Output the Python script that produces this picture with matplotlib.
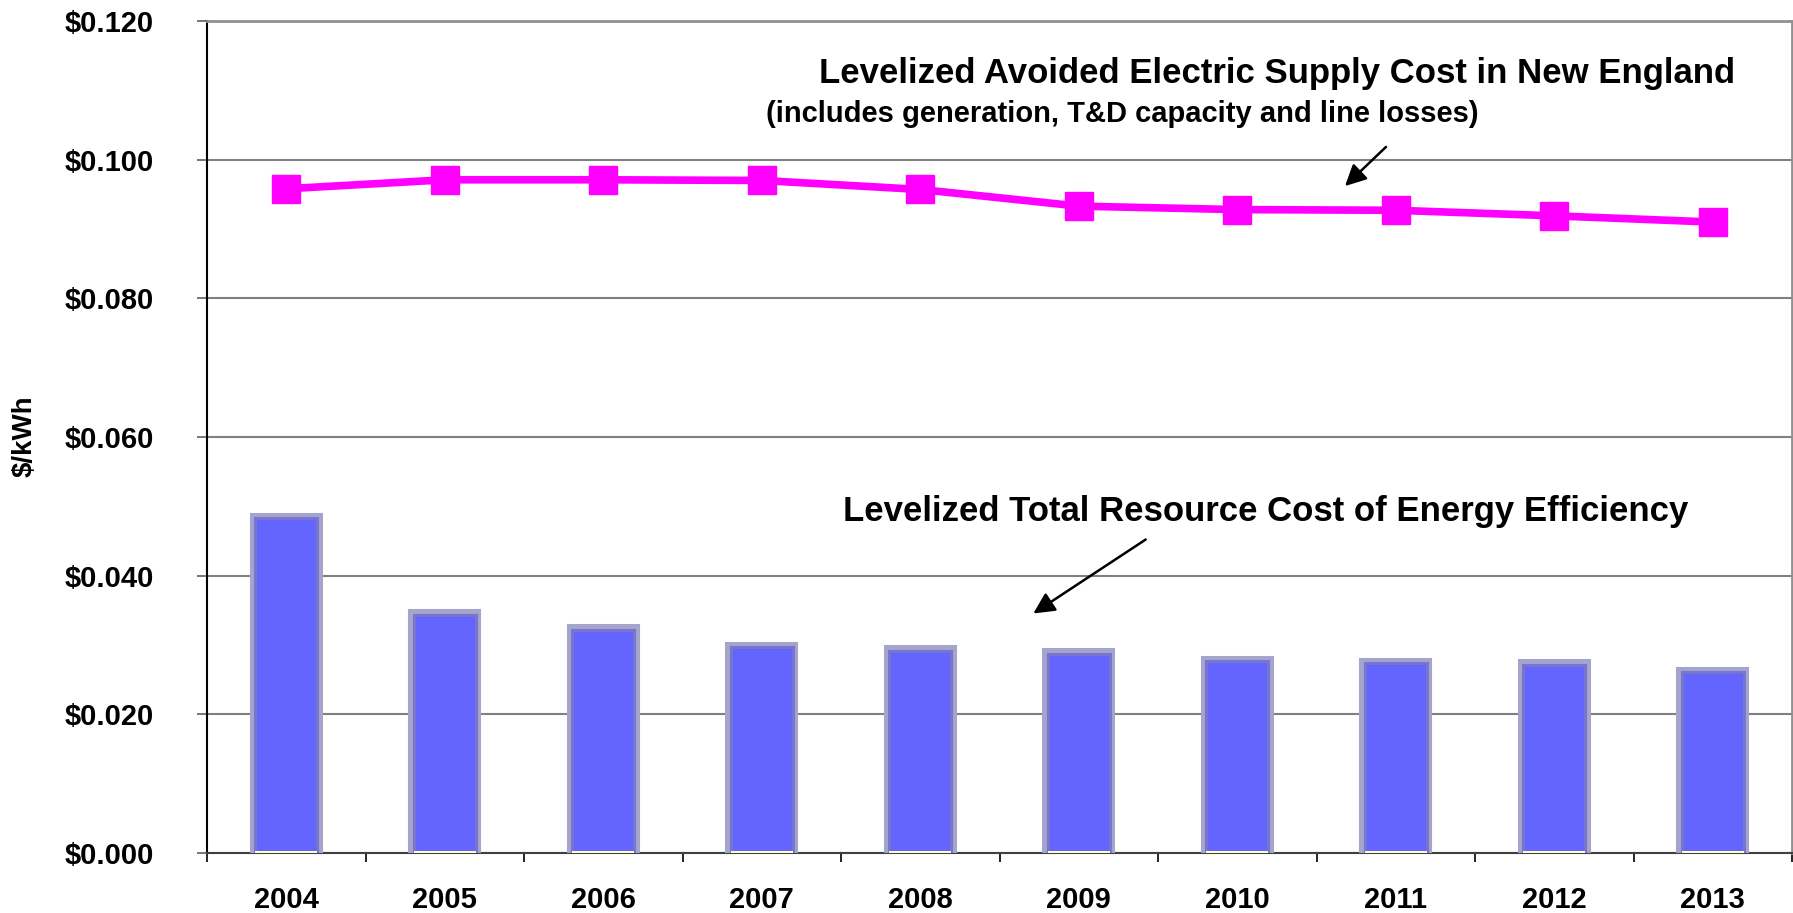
import matplotlib
matplotlib.use("Agg")
import matplotlib.pyplot as plt
from matplotlib.ticker import FixedLocator, FuncFormatter

years = ["2004", "2005", "2006", "2007", "2008", "2009", "2010", "2011", "2012", "2013"]
trc_cost = [0.0485, 0.0346, 0.0324, 0.0299, 0.0294, 0.0290, 0.0279, 0.0276, 0.0274, 0.0263]
base_strip = [0.0003, 0.0003, 0.0003, 0.0003, 0.0003, 0.0003, 0.0003, 0.0003, 0.0003, 0.0003]
avoided_cost = [0.0958, 0.0971, 0.0971, 0.0970, 0.0957, 0.0933, 0.0928, 0.0927, 0.0919, 0.0910]
y_ticks = [0.0, 0.02, 0.04, 0.06, 0.08, 0.10, 0.12]

plt.rcParams['font.family'] = ['Liberation Sans', 'DejaVu Sans']
plt.rcParams['font.weight'] = 'bold'

W, H = 1793, 913
fig = plt.figure(figsize=(W / 100, H / 100), dpi=100)
ax = fig.add_axes([207 / W, 1 - 853 / H, (1792 - 207) / W, (853 - 21) / H])

x = list(range(len(years)))
bw = 0.41
# outer light textured border
ax.bar(x, trc_cost, width=bw, color='#6464ff', edgecolor='#a4a4cc', linewidth=5.8, zorder=3)
# inner darker border
ax.bar(x, [v - 0.00025 for v in trc_cost], width=bw - 0.02, color='#6464ff',
       edgecolor='#7676cc', linewidth=2.2, zorder=3.1)
ax.bar(x, base_strip, width=bw - 0.02, color='#ffffc8', edgecolor='none', zorder=3.2)

ax.plot(x, avoided_cost, color='#ff00ff', linewidth=5.5, marker='s', markersize=20,
        markerfacecolor='#ff00ff', markeredgecolor='#ff00ff', zorder=4, clip_on=False)

ax.set_xlim(-0.5, len(years) - 0.5)
ax.set_ylim(0, 0.12)
ax.yaxis.set_major_locator(FixedLocator(y_ticks))
ax.yaxis.set_major_formatter(FuncFormatter(lambda v, p: f"${v:.3f}"))
ax.grid(axis='y', color='#808080', linewidth=1.5, zorder=0)

ax.set_xticks(x)
ax.set_xticklabels(years, fontsize=21, fontweight='bold')
ax.tick_params(axis='x', length=0, pad=24)
ax.set_xticks([i + 0.5 for i in range(-1, len(years))], minor=True)
ax.tick_params(axis='x', which='minor', length=6.5, width=1.2, color='black', direction='out')
ax.tick_params(axis='y', labelsize=21, length=7, width=1.2, color='#606060', pad=31)
for lbl in ax.get_yticklabels():
    lbl.set_fontweight('bold')

ax.spines['left'].set_color('black')
ax.spines['left'].set_linewidth(1.5)
ax.spines['bottom'].set_color('#404040')
ax.spines['bottom'].set_linewidth(1.5)
ax.spines['top'].set_color('#909090')
ax.spines['top'].set_linewidth(2)
ax.spines['right'].set_color('#909090')
ax.spines['right'].set_linewidth(2)

fig.text(25 / W, 1 - 436 / H, "$/kWh", rotation=90, fontsize=20, fontweight='bold',
         ha='center', va='center')

fig.text(819 / W, 1 - 73 / H, "Levelized Avoided Electric Supply Cost in New England",
         fontsize=25, fontweight='bold', ha='left', va='center')
fig.text(766 / W, 1 - 114 / H, "(includes generation, T&D capacity and line losses)",
         fontsize=21, fontweight='bold', ha='left', va='center')
fig.text(843 / W, 1 - 511 / H, "Levelized Total Resource Cost of Energy Efficiency",
         fontsize=25, fontweight='bold', ha='left', va='center')

ax.annotate("", xy=(1343 / W, 1 - 188 / H), xytext=(1388 / W, 1 - 145 / H),
            xycoords='figure fraction', textcoords='figure fraction',
            arrowprops=dict(arrowstyle='-|>', color='black', lw=1.8, mutation_scale=32))
ax.annotate("", xy=(1031 / W, 1 - 615 / H), xytext=(1148 / W, 1 - 538 / H),
            xycoords='figure fraction', textcoords='figure fraction',
            arrowprops=dict(arrowstyle='-|>', color='black', lw=1.8, mutation_scale=32))

fig.savefig("out.png", dpi=100)
